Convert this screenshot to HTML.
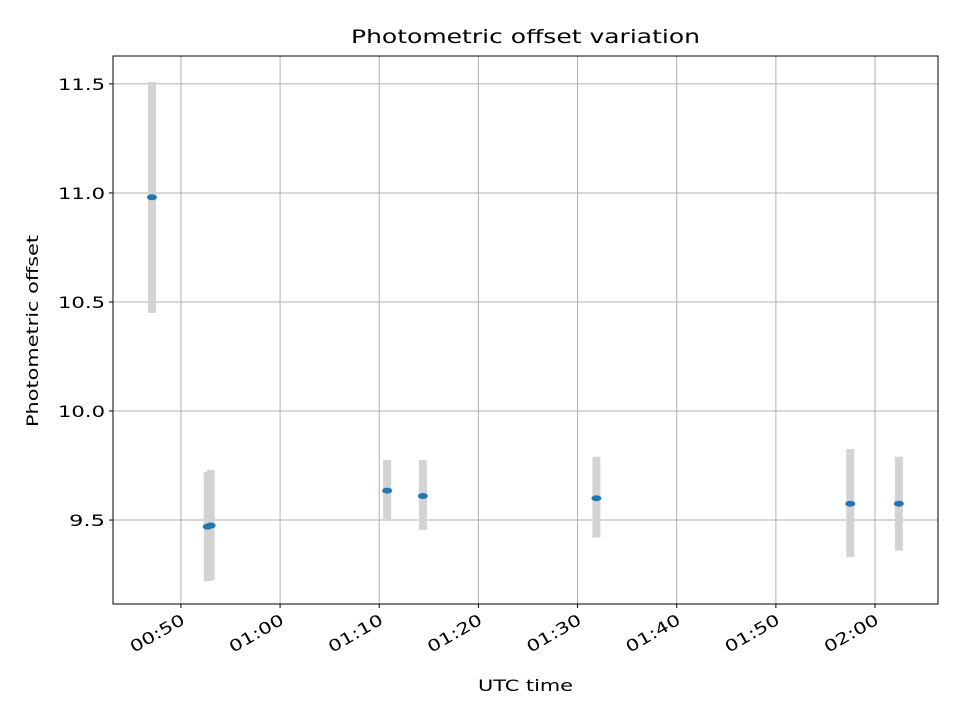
<!DOCTYPE html>
<html><head><meta charset="utf-8"><style>
body{margin:0;background:#fff;font-family:"Liberation Sans","DejaVu Sans",sans-serif}
</style></head><body>
<svg id="chart" width="960" height="720" xmlns="http://www.w3.org/2000/svg" font-family="DejaVu Sans, Liberation Sans, sans-serif"></svg>
<script>
const timesMin = [47.08, 52.7, 53.0, 70.8, 74.4, 91.9, 117.5, 122.4];
const offsets = [10.98, 9.47, 9.475, 9.635, 9.61, 9.60, 9.575, 9.575];
const errLow = [10.45, 9.22, 9.225, 9.50, 9.455, 9.42, 9.33, 9.36];
const errHigh = [11.51, 9.72, 9.73, 9.775, 9.775, 9.79, 9.825, 9.79];
const yTicks = [9.5, 10.0, 10.5, 11.0, 11.5];
const xTicks = [50, 60, 70, 80, 90, 100, 110, 120];
const xTickLabels = ["00:50","01:00","01:10","01:20","01:30","01:40","01:50","02:00"];

const L=113,R=938,T=56,B=604;
const xMin=43.15,xMax=126.35,yMin=9.115,yMax=11.628;
const X=v=>L+(v-xMin)/(xMax-xMin)*(R-L);
const Y=v=>B-(v-yMin)/(yMax-yMin)*(B-T);
const svg=document.getElementById('chart');
const NS='http://www.w3.org/2000/svg';
function mk(tag,attrs,parent){const e=document.createElementNS(NS,tag);for(const k in attrs)e.setAttribute(k,attrs[k]);(parent||svg).appendChild(e);return e;}
const fit={lengthAdjust:'spacingAndGlyphs'};

yTicks.forEach((t,i)=>{
  const g=mk('line',{x1:L,x2:R,y1:Y(t),y2:Y(t),stroke:'#b0b0b0','stroke-width':1});
  
  
  mk('line',{x1:L-4,x2:L,y1:Y(t),y2:Y(t),stroke:'#000'});
  const s=t.toFixed(1);
  const tx=mk('text',{x:L-8,y:Y(t)+6,'text-anchor':'end','font-size':16,textLength:s.length===4?47:36,lengthAdjust:'spacingAndGlyphs'});
  tx.textContent=s;
  
  
});
xTicks.forEach((t,i)=>{
  const g=mk('line',{x1:X(t),x2:X(t),y1:T,y2:B,stroke:'#b0b0b0','stroke-width':1});
  
  
  mk('line',{x1:X(t),x2:X(t),y1:B,y2:B+4,stroke:'#000'});
  const ax=X(t)+5, ay=B+19;
  const tx=mk('text',{x:ax,y:ay,'text-anchor':'end','font-size':16,textLength:60,lengthAdjust:'spacingAndGlyphs',transform:`rotate(-30 ${ax} ${ay})`});
  tx.textContent=xTickLabels[i];
  
  
});
timesMin.forEach((t,i)=>{
  const e=mk('line',{x1:X(t),x2:X(t),y1:Y(errLow[i]),y2:Y(errHigh[i]),stroke:'#d3d3d3','stroke-width':8});
  
  
});
timesMin.forEach((t,i)=>{
  const p=mk('ellipse',{cx:X(t),cy:Y(offsets[i]),rx:5,ry:3,fill:'#1f77b4'});
  
  
});
const fr=mk('rect',{x:L,y:T,width:R-L,height:B-T,fill:'none',stroke:'#000','stroke-width':1});


const ti=mk('text',{x:(L+R)/2,y:43,'text-anchor':'middle','font-size':19,textLength:349,lengthAdjust:'spacingAndGlyphs'});
ti.textContent='Photometric offset variation';


const xl=mk('text',{x:(L+R)/2,y:691,'text-anchor':'middle','font-size':16,textLength:95,lengthAdjust:'spacingAndGlyphs'});
xl.textContent='UTC time';


const yc=(T+B)/2+1;
const yl=mk('text',{x:38,y:yc,'text-anchor':'middle','font-size':16,textLength:192,lengthAdjust:'spacingAndGlyphs',transform:`rotate(-90 38 ${yc})`});
yl.textContent='Photometric offset';


</script>
</body></html>
